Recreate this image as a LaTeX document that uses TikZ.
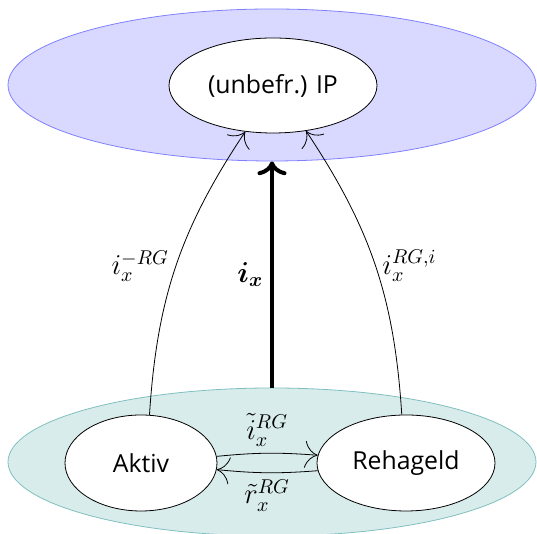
\documentclass[tikz,border=0pt]{standalone}
\usepackage{amsmath}
\usepackage{amssymb}
\usepackage{fontspec}
\setmainfont{Open Sans}
\usetikzlibrary{shapes.geometric,arrows.meta}

\begin{document}
\begin{tikzpicture}[x=0.5pt,y=0.5pt,>={To[scale=2.6]}]

      \useasboundingbox (0,0) rectangle (537,534);

      \begin{scope}[every node/.style={ellipse,inner sep=0pt}]
        \node[draw=blue!50,fill=blue!15,minimum width=264pt,minimum height=76pt] (top) at (272,449) {};
        \node[draw=teal!50,fill=teal!15,minimum width=264pt,minimum height=74pt] (bottom) at (272,72) {};
      \end{scope}

      \begin{scope}[every node/.style={ellipse,draw,fill=white,font=\fontsize{12.4}{15}\selectfont}]
        \node[minimum width=104pt,minimum height=47.5pt] (ip)    at (273,448.5) {(unbefr.) IP};
        \node[minimum width=76pt,minimum height=48pt]    (aktiv) at (141,71)    {Aktiv};
        \node[minimum width=89pt,minimum height=48pt]    (reha)  at (406,71)    {Rehageld};
      \end{scope}

      \begin{scope}[every node/.style={font=\fontsize{14.4}{17}\selectfont},every edge/.style={draw,->}]
        \path (aktiv.80)   edge[bend left=15]     node[left]  {$i_x^{-RG}$}          (ip.239);
        \path (reha.95)    edge[bend right=15]    node[right] {$i_x^{RG,i}$}         (ip.-54);
        \path (bottom.north) edge[line width=2pt,-{To[scale=1.15]}] node[left] {$\boldsymbol{i_x}$} (top.south);
        \path (aktiv.5)    edge[bend left=5]      node[above] {$\tilde{i}_x^{RG}$}   (reha.175);
        \path (reha.-175)  edge[bend left=5]      node[below] {$\tilde{r}_x^{RG}$}   (aktiv.-5);
      \end{scope}

    \end{tikzpicture}
\end{document}
